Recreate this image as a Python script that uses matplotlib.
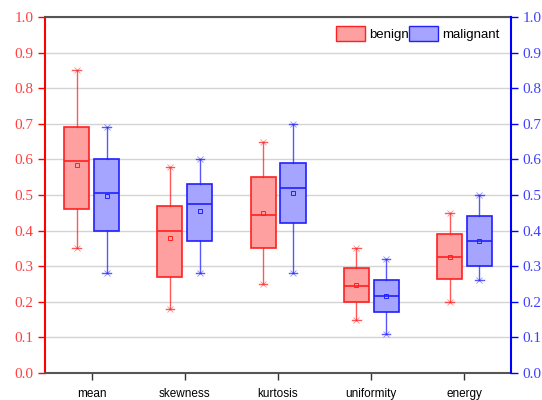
import matplotlib
matplotlib.use("Agg")
import matplotlib.pyplot as plt
from matplotlib.patches import Patch

categories = ["mean", "skewness", "kurtosis", "uniformity", "energy"]

# benign: whislo, q1, med, mean, q3, whishi
benign_low = [0.35, 0.18, 0.25, 0.15, 0.20]
benign_q1 = [0.46, 0.27, 0.35, 0.20, 0.265]
benign_med = [0.595, 0.40, 0.445, 0.245, 0.325]
benign_mean = [0.585, 0.378, 0.45, 0.248, 0.327]
benign_q3 = [0.69, 0.47, 0.55, 0.295, 0.39]
benign_high = [0.85, 0.58, 0.65, 0.35, 0.45]

malig_low = [0.28, 0.28, 0.28, 0.11, 0.26]
malig_q1 = [0.40, 0.37, 0.42, 0.17, 0.30]
malig_med = [0.505, 0.475, 0.52, 0.215, 0.37]
malig_mean = [0.497, 0.455, 0.505, 0.217, 0.37]
malig_q3 = [0.60, 0.53, 0.59, 0.26, 0.44]
malig_high = [0.69, 0.60, 0.70, 0.32, 0.50]

fig = plt.figure(figsize=(5.42, 4.0), dpi=100)
ax = fig.add_axes([0.083, 0.0675, 0.86, 0.89])

def stats(lo, q1, med, mn, q3, hi):
    return [dict(whislo=a, q1=b, med=c, mean=d, q3=e, whishi=f, fliers=[])
            for a, b, c, d, e, f in zip(lo, q1, med, mn, q3, hi)]

x = list(range(1, len(categories) + 1))
off = 0.16
w = 0.27

def draw(st, pos, edge, face):
    ax.bxp(st, positions=pos, widths=w, patch_artist=True, showmeans=True,
           showfliers=False, capwidths=0.09,
           boxprops=dict(facecolor=face, edgecolor=edge, linewidth=1.2),
           medianprops=dict(color=edge, linewidth=1.2),
           whiskerprops=dict(color=edge, linewidth=1.0, alpha=0.75),
           capprops=dict(color=edge, linewidth=1.0, alpha=0.75),
           meanprops=dict(marker="s", markersize=3.5, markerfacecolor="none",
                          markeredgecolor=edge, markeredgewidth=0.7),
           manage_ticks=False, zorder=3)
    for p, s in zip(pos, st):
        ax.plot([p, p], [s["whislo"], s["whishi"]], ls="none", marker="x",
                ms=4, mew=0.6, color=edge, alpha=0.5, zorder=3)

draw(stats(benign_low, benign_q1, benign_med, benign_mean, benign_q3, benign_high),
     [i - off for i in x], "#ff2020", "#ffa0a0")
draw(stats(malig_low, malig_q1, malig_med, malig_mean, malig_q3, malig_high),
     [i + off for i in x], "#2020ff", "#a5a5ff")

ax.set_xlim(0.5, 5.5)
ax.set_ylim(0, 1.0)
yt = [i / 10 for i in range(11)]
ax.set_yticks(yt)
ax.set_yticklabels([f"{v:.1f}" for v in yt], family="Liberation Serif",
                   fontsize=11, color="#ff4040")
ax.set_xticks(x)
ax.set_xticklabels(categories, family="Liberation Sans", fontsize=8.5)
ax.tick_params(axis="x", length=5, width=1, color="#333333", pad=6)
ax.tick_params(axis="y", length=5, width=1, color="red", pad=3)
ax.grid(axis="y", color="#d4d4d4", linewidth=1, zorder=0)
ax.set_axisbelow(True)

ax.spines["left"].set_color("red")
ax.spines["left"].set_linewidth(1.5)
ax.spines["top"].set_color("#555555")
ax.spines["top"].set_linewidth(1.5)
ax.spines["bottom"].set_color("#555555")
ax.spines["bottom"].set_linewidth(1.5)
ax.spines["right"].set_visible(False)

ax2 = ax.twinx()
ax2.set_ylim(0, 1.0)
ax2.set_yticks(yt)
ax2.set_yticklabels([f"{v:.1f}" for v in yt], family="Liberation Serif",
                    fontsize=11, color="#4040ff")
ax2.tick_params(axis="y", length=5, width=1, color="blue", pad=3)
for s in ["left", "top", "bottom"]:
    ax2.spines[s].set_visible(False)
ax2.spines["right"].set_color("blue")
ax2.spines["right"].set_linewidth(1.5)

handles = [Patch(facecolor="#ffa0a0", edgecolor="#ff2020", label="benign"),
           Patch(facecolor="#a5a5ff", edgecolor="#2020ff", label="malignant")]
ax.legend(handles=handles, loc="upper right", ncol=2, frameon=False,
          prop=dict(family="Liberation Sans", size=9.5),
          handlelength=2.2, handleheight=1.3, handletextpad=0.3,
          columnspacing=0.0, borderaxespad=0.3, bbox_to_anchor=(0.995, 1.0))

fig.savefig("out.png", dpi=100)
